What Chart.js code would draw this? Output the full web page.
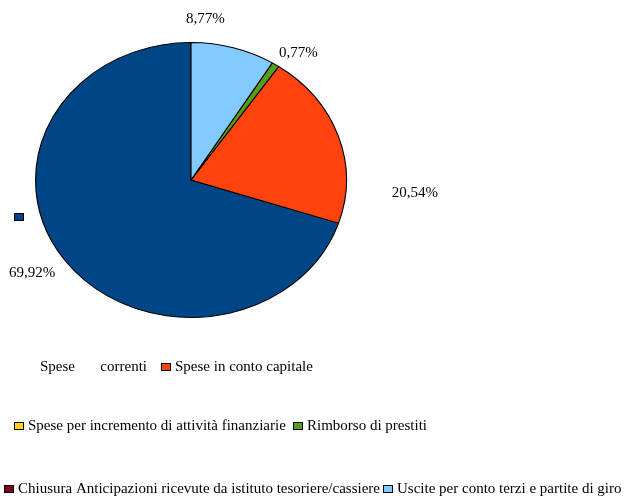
<!DOCTYPE html>
<html>
<head>
<meta charset="utf-8">
<script src="https://cdn.jsdelivr.net/npm/chart.js@4.4.1/dist/chart.umd.min.js"></script>
<style>
    html, body { margin: 0; padding: 0; background: #fff; }
</style>
</head>
<body>
<canvas id="myChart" width="624" height="496"></canvas>
<script>
// Dati del grafico
const categories = [
    'Spese correnti',
    'Spese in conto capitale',
    'Spese per incremento di attività finanziarie',
    'Rimborso di prestiti',
    'Chiusura Anticipazioni ricevute da istituto tesoriere/cassiere',
    'Uscite per conto terzi e partite di giro'
]
const percentages = [69.92, 20.54, 0, 0.77, 0, 8.77]
const sliceColors = ['#004586', '#ff420e', '#ffd320', '#579d1c', '#7e0021', '#83caff']

const stretchX = 156 / 138   // pie is an ellipse in the original

// label placement tweaks: angle shift (deg) and distance beyond the edge
const labelTweak = [[2.4, 31], [22.4, 61], null, [3.9, 21], null, [-11.3, 24]]

function fmt(v) {
    return v.toFixed(2).replace('.', ',') + '%'
}

// draw the pie squashed + mirrored (counter-clockwise like the original)
const ellipsePlugin = {
    id: 'ellipse',
    beforeDatasetsDraw(chart) {
        const arc = chart.getDatasetMeta(0).data[0]
        const ctx = chart.ctx
        ctx.save()
        ctx.translate(arc.x, arc.y)
        ctx.scale(-stretchX, 1)
        ctx.translate(-arc.x, -arc.y)
    },
    afterDatasetsDraw(chart) {
        chart.ctx.restore()
    }
}

// percent labels outside the slices
const labelPlugin = {
    id: 'pctLabels',
    afterDraw(chart) {
        const ctx = chart.ctx
        const meta = chart.getDatasetMeta(0)
        ctx.save()
        ctx.font = '15px "Liberation Serif"'
        ctx.fillStyle = '#000'
        ctx.textAlign = 'center'
        ctx.textBaseline = 'middle'
        meta.data.forEach((arc, i) => {
            if (!percentages[i] || !labelTweak[i]) return
            let theta = (arc.startAngle + arc.endAngle) / 2 + Math.PI / 2
            let phi = 2 * Math.PI - theta + labelTweak[i][0] * Math.PI / 180
            let r = arc.outerRadius + labelTweak[i][1]
            let x = arc.x + Math.sin(phi) * r * stretchX
            let y = arc.y - Math.cos(phi) * r
            ctx.fillText(fmt(percentages[i]), x, y)
        })
        ctx.restore()
    }
}

// legend in three rows, like the original
const legendPlugin = {
    id: 'rowLegend',
    afterDraw(chart) {
        const ctx = chart.ctx
        const rows = [[0, 1], [2, 3], [4, 5]]
        const rowY = [367, 426, 489]
        const startX = [[14, 161], [14, 293], [4, 383]]
        ctx.save()
        ctx.font = '15px "Liberation Serif"'
        ctx.fillStyle = '#000'
        ctx.textBaseline = 'middle'
        rows.forEach((row, r) => {
            row.forEach((idx, k) => {
                let bx = startX[r][k]
                let by = rowY[r] - 4
                if (idx === 0) by = 213   // the box of the first item sits alone near the pie
                ctx.fillStyle = sliceColors[idx]
                ctx.fillRect(bx, by, 10, 8)
                ctx.strokeStyle = '#000'
                ctx.lineWidth = 1
                ctx.strokeRect(bx + 0.5, by + 0.5, 9, 7)
                ctx.fillStyle = '#000'
                if (idx === 0) {
                    // text stretched over a wider space
                    let words = categories[idx].split(' ')
                    ctx.textAlign = 'left'
                    ctx.fillText(words[0], 40, rowY[r])
                    ctx.textAlign = 'right'
                    ctx.fillText(words[1], 147, rowY[r])
                    ctx.textAlign = 'left'
                } else {
                    ctx.textAlign = 'left'
                    ctx.fillText(categories[idx], bx + 14, rowY[r])
                }
            })
        })
        ctx.restore()
    }
}

const chart1 = document.getElementById('myChart')
new Chart(chart1, {
    type: 'pie',
    data: {
        labels: categories,
        datasets: [{
            data: percentages,
            backgroundColor: sliceColors,
            borderColor: '#000',
            borderWidth: 1
        }]
    },
    options: {
        responsive: false,
        animation: false,
        layout: {
            padding: { left: 53, right: 295, top: 42, bottom: 178 }
        },
        plugins: {
            legend: { display: false },
            tooltip: { enabled: false }
        }
    },
    plugins: [ellipsePlugin, labelPlugin, legendPlugin]
})
</script>
</body>
</html>
